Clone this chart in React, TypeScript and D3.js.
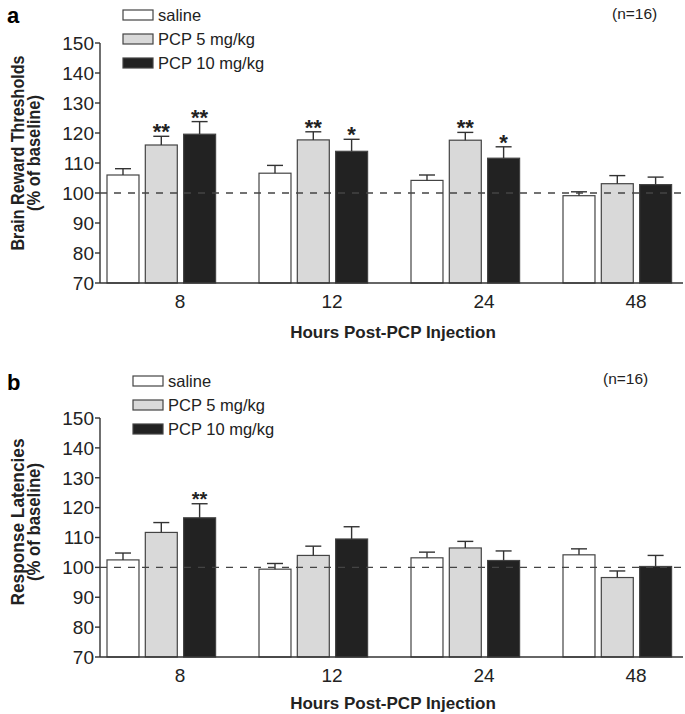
import React from "react";
import * as d3 from "d3";

const groups = ["8", "12", "24", "48"];
const seriesNames = ["saline", "PCP 5 mg/kg", "PCP 10 mg/kg"];
const seriesFills = ["#ffffff", "#d9d9d9", "#222222"];

// Panel a: brain reward thresholds (% of baseline)
const thrSaline = [106.0, 106.6, 104.2, 99.1];
const thrSalineErr = [2.1, 2.6, 1.8, 1.3];
const thrPcp5 = [116.0, 117.7, 117.6, 103.1];
const thrPcp5Err = [2.9, 2.7, 2.6, 2.7];
const thrPcp10 = [119.6, 113.9, 111.6, 102.8];
const thrPcp10Err = [4.2, 4.0, 3.8, 2.5];
const thrStars5 = ["**", "**", "**", ""];
const thrStars10 = ["**", "*", "*", ""];

// Panel b: response latencies (% of baseline)
const latSaline = [102.5, 99.4, 103.2, 104.2];
const latSalineErr = [2.3, 1.9, 1.9, 2.0];
const latPcp5 = [111.7, 104.0, 106.5, 96.6];
const latPcp5Err = [3.3, 3.1, 2.2, 2.2];
const latPcp10 = [116.6, 109.5, 102.3, 100.3];
const latPcp10Err = [4.7, 4.1, 3.2, 3.7];
const latStars5 = ["", "", "", ""];
const latStars10 = ["**", "", "", ""];

const yTicks = [70, 80, 90, 100, 110, 120, 130, 140, 150];

const FONT = "'Liberation Sans', Arial, Helvetica, sans-serif";

type PanelProps = {
  letter: string;
  top: number;
  bottom: number;
  means: number[][];
  errs: number[][];
  stars: string[][];
  yLabel: string[];
  yLabelLengths: number[];
  yLabelCenter: number;
  legendX: number;
  legendY: number;
  nX: number;
  nY: number;
  letterY: number;
  xTickY: number;
  xTitleY: number;
  starSize: number;
};

function Panel(p: PanelProps) {
  const y = d3.scaleLinear().domain([70, 150]).range([p.bottom, p.top]);
  const xg = d3.scaleBand<string>().domain(groups).range([86, 694]).padding(0);
  const xs = d3
    .scaleBand<string>()
    .domain(seriesNames)
    .range([21, 129.6])
    .paddingInner(0.165)
    .paddingOuter(0);
  const bw = xs.bandwidth();
  const axisX0 = 100;
  const axisX1 = 683;

  return (
    <g>
      <text x={7} y={p.letterY} fontFamily={FONT} fontWeight="bold" fontSize={22}>
        {p.letter}
      </text>
      <text x={p.nX} y={p.nY} fontFamily={FONT} fontSize={15.5} fill="#222">
        (n=16)
      </text>
      {seriesNames.map((s, i) => (
        <g key={s}>
          <rect
            x={p.legendX}
            y={p.legendY + i * 24 - 5}
            width={30}
            height={10}
            fill={seriesFills[i]}
            stroke="#444"
            strokeWidth={1.2}
          />
          <text
            x={p.legendX + 35}
            y={p.legendY + i * 24 + 6}
            fontFamily={FONT}
            fontSize={16.5}
            fill="#222"
          >
            {s}
          </text>
        </g>
      ))}
      {p.yLabel.map((t, i) => (
        <text
          key={t}
          transform={`translate(${24 + i * 16},${p.yLabelCenter}) rotate(-90)`}
          textAnchor="middle"
          fontFamily={FONT}
          fontWeight="bold"
          fontSize={18}
          textLength={p.yLabelLengths[i]}
          lengthAdjust="spacingAndGlyphs"
          fill="#222"
        >
          {t}
        </text>
      ))}
      <line x1={axisX0} x2={axisX0} y1={y(150)} y2={y(70)} stroke="#333" strokeWidth={1.4} />
      {yTicks.map((t) => (
        <g key={t}>
          <line x1={axisX0 - 5} x2={axisX0} y1={y(t)} y2={y(t)} stroke="#333" strokeWidth={1.4} />
          <text
            x={axisX0 - 6}
            y={y(t)}
            dy="0.36em"
            textAnchor="end"
            fontFamily={FONT}
            fontSize={19}
            fill="#222"
          >
            {t}
          </text>
        </g>
      ))}
      {groups.map((g, gi) =>
        seriesNames.map((s, si) => {
          const x0 = (xg(g) as number) + (xs(s) as number);
          const v = p.means[si][gi];
          const e = p.errs[si][gi];
          const cx = x0 + bw / 2;
          return (
            <g key={g + s}>
              <rect
                x={x0}
                y={y(v)}
                width={bw}
                height={y(70) - y(v)}
                fill={seriesFills[si]}
                stroke="#444"
                strokeWidth={1.2}
              />
              <line x1={cx} x2={cx} y1={y(v)} y2={y(v + e)} stroke="#333" strokeWidth={1.4} />
              <line x1={cx - 8} x2={cx + 8} y1={y(v + e)} y2={y(v + e)} stroke="#333" strokeWidth={1.4} />
              {p.stars[si][gi] ? (
                <text
                  x={cx}
                  y={y(v + e) + p.starSize * 0.32 - 4}
                  textAnchor="middle"
                  fontFamily={FONT}
                  fontWeight="bold"
                  fontSize={p.starSize}
                  fill="#222"
                >
                  {p.stars[si][gi]}
                </text>
              ) : null}
            </g>
          );
        })
      )}
      <line
        x1={axisX0}
        x2={axisX1}
        y1={y(100)}
        y2={y(100)}
        stroke="#444"
        strokeWidth={1.3}
        strokeDasharray="7,7"
      />
      <line x1={axisX0} x2={axisX1} y1={y(70)} y2={y(70)} stroke="#333" strokeWidth={1.4} />
      {groups.map((g) => (
        <text
          key={g}
          x={(xg(g) as number) + xg.bandwidth() / 2 + 18}
          y={p.xTickY}
          textAnchor="middle"
          fontFamily={FONT}
          fontSize={19}
          fill="#222"
        >
          {g}
        </text>
      ))}
      <text
        x={393}
        y={p.xTitleY}
        textAnchor="middle"
        fontFamily={FONT}
        fontWeight="bold"
        fontSize={17}
        fill="#222"
      >
        Hours Post-PCP Injection
      </text>
    </g>
  );
}

export default function App() {
  return (
    <svg
      width={685}
      height={714}
      style={{ position: "absolute", left: 0, top: 0, background: "#fff" }}
    >
      <rect x={0} y={0} width={685} height={714} fill="#fff" />
      <Panel
        letter="a"
        top={43}
        bottom={283}
        means={[thrSaline, thrPcp5, thrPcp10]}
        errs={[thrSalineErr, thrPcp5Err, thrPcp10Err]}
        stars={[["", "", "", ""], thrStars5, thrStars10]}
        yLabel={["Brain Reward Thresholds", "(% of baseline)"]}
        yLabelLengths={[195, 116]}
        yLabelCenter={153}
        legendX={123}
        legendY={15}
        nX={612}
        nY={19}
        letterY={23}
        xTickY={308}
        xTitleY={338}
        starSize={22}
      />
      <Panel
        letter="b"
        top={418}
        bottom={657}
        means={[latSaline, latPcp5, latPcp10]}
        errs={[latSaline.map((_, i) => latSalineErr[i]), latPcp5Err, latPcp10Err]}
        stars={[["", "", "", ""], latStars5, latStars10]}
        yLabel={["Response Latencies", "(% of baseline)"]}
        yLabelLengths={[167, 118]}
        yLabelCenter={522}
        legendX={133}
        legendY={381}
        nX={603}
        nY={384}
        letterY={390}
        xTickY={682}
        xTitleY={709}
        starSize={20}
      />
    </svg>
  );
}
